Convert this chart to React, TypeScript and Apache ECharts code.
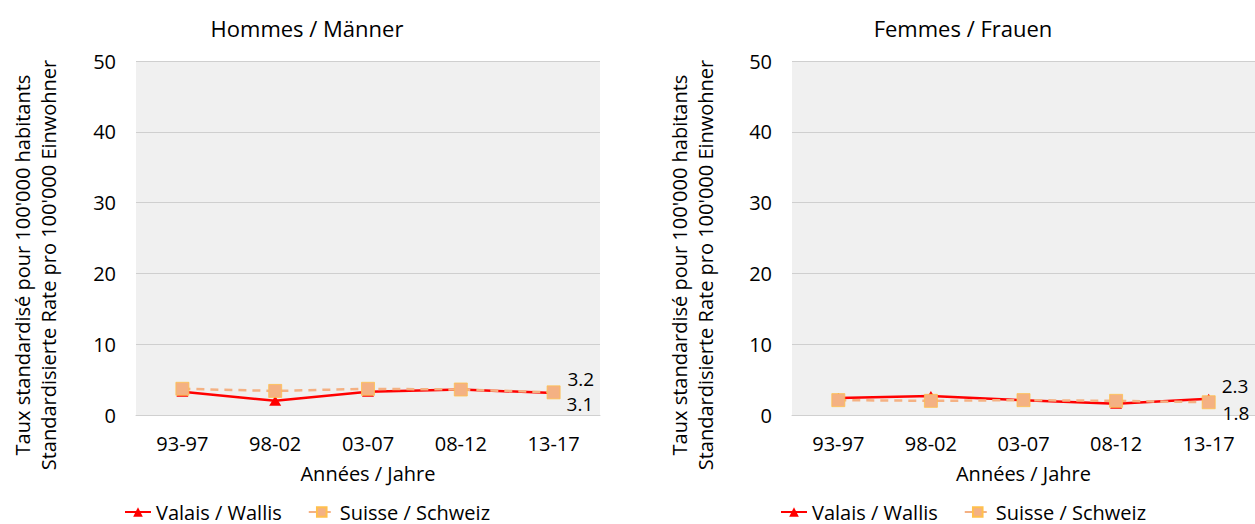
import React, { useEffect, useRef } from "react";
import * as echarts from "echarts";

const categories = ["93-97", "98-02", "03-07", "08-12", "13-17"];
const menValais = [3.3, 2.0, 3.3, 3.6, 3.1];
const menSuisse = [3.7, 3.4, 3.7, 3.6, 3.2];
const womenValais = [2.4, 2.7, 2.1, 1.6, 2.3];
const womenSuisse = [2.1, 2.0, 2.1, 2.0, 1.8];
const yTicks = { min: 0, max: 50, interval: 10 };
const titles = ["Hommes / Männer", "Femmes / Frauen"];
const seriesNames = ["Valais / Wallis", "Suisse / Schweiz"];
const yName = "Taux standardisé pour 100'000 habitants\nStandardisierte Rate pro 100'000 Einwohner";
const xName = "Années / Jahre";

const FONT = "'Open Sans', 'Noto Sans', sans-serif";
const RED = "#ff0000";
const ORANGE = "#f4b183";

export default function App() {
  const ref = useRef<HTMLDivElement>(null);
  useEffect(() => {
    const chart = echarts.init(ref.current!, null, { renderer: "svg" });
    const lastLabel = (pos: "above" | "below", n: number) => ({
      show: true,
      formatter: (p: any) => (p.dataIndex === n - 1 ? String(p.value.toFixed(1)) : ""),
      position: "right",
      offset: pos === "above" ? [2, -13] : [2, 11],
      fontFamily: FONT,
      fontSize: 19,
      lineHeight: 19,
      color: "#000",
    });
    const grids = [
      { left: 136, width: 464, top: 61, height: 354 },
      { left: 792, width: 463, top: 61, height: 354 },
    ];
    const xAxes = grids.map((_, i) => ({
      type: "category",
      gridIndex: i,
      data: categories,
      boundaryGap: true,
      axisLine: { show: true, lineStyle: { color: "#d0d0d0", width: 1 } },
      axisTick: { show: false },
      axisLabel: { fontFamily: FONT, fontSize: 20, color: "#000", margin: 18 },
      name: xName,
      nameLocation: "middle",
      nameGap: 48,
      nameTextStyle: { fontFamily: FONT, fontSize: 20, color: "#000" },
    }));
    const yAxes = grids.map((_, i) => ({
      type: "value",
      gridIndex: i,
      ...yTicks,
      axisLine: { show: false },
      axisTick: { show: false },
      splitLine: { show: true, lineStyle: { color: "#cfcfcf", width: 1 } },
      axisLabel: { fontFamily: FONT, fontSize: 20, color: "#000", margin: 20 },
    }));
    const mk = (name: string, data: number[], idx: number, valais: boolean, labelPos: "above" | "below") => ({
      name,
      type: "line",
      xAxisIndex: idx,
      yAxisIndex: idx,
      data,
      symbol: valais ? "triangle" : "rect",
      symbolSize: valais ? [12, 10] : 13,
      z: valais ? 2 : 3,
      lineStyle: { color: valais ? RED : ORANGE, width: 2.5, type: valais ? "solid" : [8, 6] },
      itemStyle: valais
        ? { color: RED }
        : { color: ORANGE, borderColor: "#ffc04d", borderWidth: 0.8 },
      label: lastLabel(labelPos, data.length),
      emphasis: { disabled: true },
    });
    const legendStyle = { fontFamily: FONT, fontSize: 20, color: "#000", lineHeight: 20 };
    const yNameText = (x: number) => ({
      type: "text",
      x,
      y: 265,
      rotation: Math.PI / 2,
      style: {
        text: yName,
        fontFamily: FONT,
        fontSize: 20,
        lineHeight: 26,
        fill: "#000",
        textAlign: "center",
        textVerticalAlign: "middle",
      },
    });
    chart.setOption({
      animation: false,
      backgroundColor: "#ffffff",
      title: [
        { text: titles[0], left: 302, top: 12, textAlign: "center", textStyle: { fontFamily: FONT, fontSize: 22, fontWeight: "normal", color: "#000" } },
        { text: titles[1], left: 958, top: 12, textAlign: "center", textStyle: { fontFamily: FONT, fontSize: 22, fontWeight: "normal", color: "#000" } },
      ],
      graphic: [yNameText(35), yNameText(692)],
      grid: grids.map((g) => ({ ...g, show: true, backgroundColor: "#f0f0f0", borderWidth: 0 })),
      xAxis: xAxes,
      yAxis: yAxes,
      legend: [
        { data: seriesNames, left: 124, top: 502, itemWidth: 26, itemHeight: 12, itemGap: 26, padding: 0, textStyle: legendStyle },
        { data: seriesNames, left: 780, top: 502, itemWidth: 26, itemHeight: 12, itemGap: 26, padding: 0, textStyle: legendStyle },
      ],
      series: [
        mk(seriesNames[0], menValais, 0, true, "below"),
        mk(seriesNames[1], menSuisse, 0, false, "above"),
        mk(seriesNames[0], womenValais, 1, true, "above"),
        mk(seriesNames[1], womenSuisse, 1, false, "below"),
      ],
    });
    return () => chart.dispose();
  }, []);
  return <div ref={ref} style={{ position: "fixed", left: 0, top: 0, width: 1255, height: 524 }} />;
}
